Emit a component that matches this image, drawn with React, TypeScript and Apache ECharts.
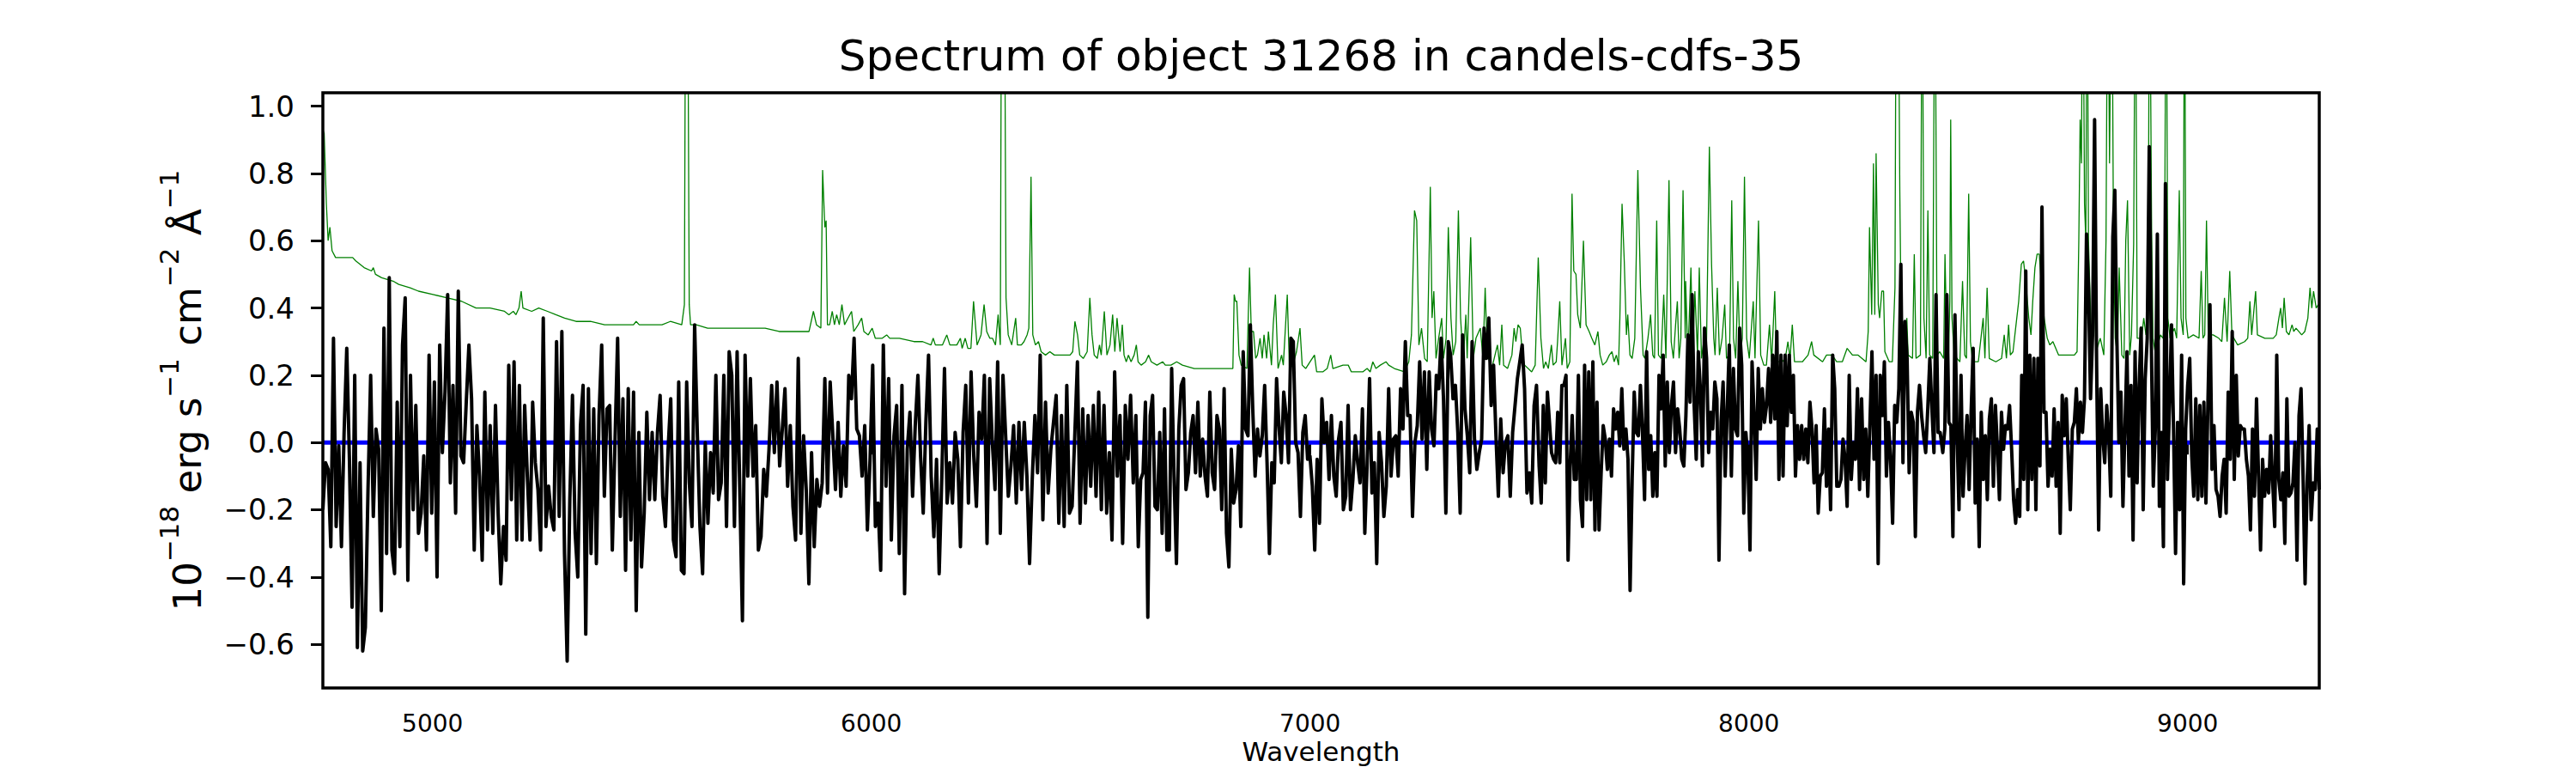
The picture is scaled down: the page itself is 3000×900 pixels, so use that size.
import React, { useEffect, useRef } from "react";
import * as echarts from "echarts";

// ---------- text ----------
const chartTitle = "Spectrum of object 31268 in candels-cdfs-35";
const xAxisTitle = "Wavelength";
const yAxisTitleRich = "{b|10}{s|−18}{b| erg s}{s|−1}{b| cm}{s|−2}{b| Å}{s|−1}";

// ---------- axes ----------
const xMin = 4750;
const xMax = 9300;
const yMin = -0.73;
const yMax = 1.04;
const xTickValues = [5000, 6000, 7000, 8000, 9000];
const yTickValues = [-0.6, -0.4, -0.2, 0.0, 0.2, 0.4, 0.6, 0.8, 1.0];

// ---------- zero reference line ----------
const zeroLine = [
  [4750, 0],
  [9300, 0],
];

// ---------- object flux (black), read in five wavelength stretches ----------
const blackSegmentStarts = [4750, 5682, 6603, 7522, 8442];
const blackSegmentEnds = [5676, 6597, 7516, 8436, 9300];

const blackFluxA = [
  -0.20,-0.06,-0.08,-0.31,0.31,-0.25,-0.01,-0.31,0.03,0.28,
  -0.05,-0.49,0.20,-0.61,-0.06,-0.62,-0.55,-0.14,0.20,-0.22,
  0.04,-0.02,-0.50,0.34,-0.33,0.49,-0.32,-0.39,0.12,-0.31,
  0.29,0.43,-0.41,0.20,-0.20,0.11,-0.27,-0.21,-0.04,-0.32,
  0.26,-0.21,0.18,-0.40,0.29,-0.03,0.15,0.44,-0.12,0.17,
  -0.21,0.45,-0.04,-0.06,0.12,0.29,0.13,-0.32,0.05,-0.10,
  -0.35,0.15,-0.26,0.05,-0.27,0.11,-0.21,-0.42,-0.25,-0.35,
  0.23,-0.17,0.24,-0.29,0.17,-0.29,0.11,-0.10,-0.29,0.12,
  -0.06,-0.14,-0.32,0.37,-0.25,-0.13,-0.22,-0.26,0.30,-0.22,
  0.33,-0.33,-0.65,-0.17,0.14,-0.27,-0.40,0.05,0.17,-0.57,
  0.16,-0.33,0.10,-0.36,0.08,0.29,-0.16,0.10,0.11,-0.32,
  0.00,0.31,-0.22,0.13,-0.38,0.16,-0.29,0.15,-0.50,0.03,
  -0.37,-0.21,0.09,-0.17,0.03,-0.17,0.03,0.14,-0.16,-0.25,
  -0.02,0.13,-0.29,-0.34,0.18,-0.38,-0.39,0.18,-0.12,-0.25,
  0.35,0.03,-0.25,-0.39,0.00,-0.24,-0.03,-0.15,0.20,-0.17,
  -0.12,0.20,-0.25,0.27,
];

const blackFluxB = [
  0.20,-0.25,0.27,-0.14,-0.53,0.26,-0.10,0.19,-0.10,0.05,
  -0.32,-0.28,-0.08,-0.16,-0.02,0.17,-0.03,0.18,-0.07,0.04,
  0.16,-0.13,0.05,-0.19,-0.29,0.25,-0.27,0.02,-0.14,-0.42,
  -0.03,-0.31,-0.11,-0.19,-0.12,0.19,-0.15,0.18,0.02,-0.14,
  0.06,-0.16,-0.01,-0.13,0.20,0.13,0.31,0.04,0.02,-0.10,
  0.05,-0.26,-0.05,0.23,-0.25,-0.18,-0.38,0.29,-0.13,0.19,
  -0.29,0.02,0.11,-0.33,0.17,-0.45,-0.02,0.09,-0.16,0.05,
  0.20,-0.04,-0.21,0.06,0.26,-0.10,-0.28,-0.05,-0.39,-0.10,
  0.22,-0.18,-0.06,-0.18,0.03,-0.05,-0.31,0.03,0.17,-0.18,
  0.21,-0.04,-0.19,0.09,0.01,0.20,-0.30,0.19,0.00,-0.14,
  0.24,-0.27,0.20,0.02,-0.16,-0.07,0.05,-0.18,0.06,-0.14,
  0.06,-0.10,-0.36,-0.11,0.08,-0.09,0.26,-0.23,0.12,-0.15,
  -0.02,0.06,0.14,-0.24,0.08,-0.25,0.17,-0.21,-0.19,0.02,
  0.24,-0.24,0.10,-0.18,0.08,-0.13,0.11,-0.16,0.15,-0.20,
  0.11,-0.21,-0.03,-0.29,0.21,-0.10,0.08,-0.30,0.11,-0.05,
  0.14,-0.12,
];

const blackFluxC = [
  0.08,-0.31,-0.11,-0.09,0.12,-0.52,0.08,0.14,-0.19,-0.20,
  0.03,-0.27,0.10,-0.32,-0.32,0.22,-0.10,-0.36,0.04,0.17,
  0.19,-0.14,-0.09,0.03,0.08,-0.09,0.12,-0.10,0.01,-0.10,
  -0.16,0.15,-0.09,-0.14,0.08,0.04,-0.20,0.16,-0.27,-0.37,
  -0.02,-0.18,-0.14,-0.01,-0.25,0.27,0.04,0.02,0.35,0.10,
  -0.10,0.04,-0.04,0.02,0.17,-0.06,-0.33,-0.06,-0.12,0.19,
  0.05,-0.06,0.15,0.08,-0.06,0.31,0.30,0.00,-0.03,-0.22,
  0.03,0.08,-0.05,-0.04,-0.13,-0.32,-0.05,-0.24,0.13,0.00,
  0.06,-0.11,0.08,-0.10,-0.16,0.01,0.06,-0.20,-0.16,0.11,
  -0.20,-0.11,0.02,-0.06,-0.12,0.10,-0.27,-0.06,0.19,-0.15,
  -0.06,-0.36,0.03,-0.06,-0.22,-0.13,0.16,-0.10,0.01,0.02,
  -0.10,0.16,0.04,0.30,0.08,0.08,-0.22,0.00,0.05,0.24,
  0.01,0.21,-0.08,0.21,0.04,-0.01,0.20,0.16,0.31,0.13,
  -0.21,0.30,0.26,0.13,0.17,0.03,-0.21,0.32,0.10,0.02,
  -0.09,0.30,0.01,-0.08,-0.03,0.01,0.34,0.25,0.37,0.11,
  0.23,0.02,-0.16,0.07,-0.09,0.00,0.02,-0.16,0.03,0.11,
  0.19,0.24,0.29,0.16,-0.15,-0.09,-0.18,0.11,0.17,
];

const blackFluxD = [
  -0.07,-0.18,0.11,-0.12,0.15,0.06,-0.03,-0.05,-0.06,0.09,
  -0.06,0.17,0.17,0.20,-0.35,-0.07,0.08,-0.11,-0.11,0.20,
  -0.17,-0.25,0.23,-0.17,0.21,-0.17,0.24,-0.26,0.12,-0.26,
  -0.09,0.05,0.01,-0.08,0.01,-0.10,0.10,0.04,0.09,-0.01,
  0.16,-0.02,0.04,-0.05,-0.44,-0.11,0.15,0.03,0.02,0.17,
  0.03,-0.17,0.27,-0.08,0.02,-0.16,-0.03,-0.16,0.20,0.10,
  0.26,-0.07,0.18,-0.03,0.11,0.18,-0.03,0.10,0.04,-0.05,
  -0.07,0.08,0.32,0.12,0.44,0.11,-0.05,0.27,0.16,-0.07,
  0.34,0.25,-0.03,0.09,0.04,0.18,0.13,-0.35,0.06,0.18,
  -0.10,0.10,0.29,-0.10,0.22,0.04,0.02,0.34,0.23,-0.21,
  0.03,-0.05,-0.32,0.24,0.08,-0.11,0.22,0.04,0.16,0.06,
  0.11,0.22,0.06,0.26,0.07,0.33,-0.11,0.26,-0.10,0.26,
  0.05,0.26,0.09,0.20,-0.10,0.05,-0.05,0.05,-0.05,0.04,
  -0.06,0.12,0.04,-0.12,0.05,-0.21,-0.10,-0.09,0.10,-0.13,
  0.04,-0.20,0.26,0.16,-0.13,-0.13,-0.11,0.01,-0.05,-0.19,
  0.20,-0.11,0.00,-0.05,0.16,-0.14,0.13,-0.11,0.04,-0.16,
  0.05,0.27,-0.05,0.20,-0.36,0.20,0.08,0.24,-0.10,0.06,
  -0.05,-0.24,0.11,0.06,0.16,0.53,-0.06,0.36,0.25,-0.09,
  0.09,0.06,-0.28,0.09,0.17,0.08,0.02,-0.03,0.10,0.25,
  0.10,-0.03,0.44,0.03,0.03,
];

const blackFluxE = [
  -0.03,0.04,0.44,0.06,0.05,-0.28,0.38,0.04,-0.20,0.20,
  -0.16,-0.02,0.08,-0.14,0.09,0.28,-0.18,0.01,-0.31,0.09,
  -0.11,0.02,-0.17,0.07,0.13,-0.13,0.11,-0.02,-0.17,0.09,
  -0.02,0.05,0.04,0.11,-0.02,-0.17,-0.24,-0.14,-0.22,0.20,
  -0.11,0.51,-0.20,0.26,-0.11,0.25,-0.20,0.25,-0.07,0.70,
  0.09,0.09,-0.13,-0.02,-0.10,0.10,-0.13,0.06,-0.27,0.14,
  0.02,0.13,-0.05,-0.20,0.04,0.06,0.16,0.00,0.12,0.03,
  0.13,0.62,0.46,0.13,0.32,0.96,0.23,-0.26,0.16,0.02,
  -0.06,0.11,0.02,-0.16,0.61,0.75,0.31,0.00,0.15,-0.19,
  0.04,0.27,-0.10,0.17,-0.29,0.27,-0.12,0.17,0.34,-0.20,
  0.19,0.31,0.88,0.31,-0.13,0.04,0.62,-0.19,0.03,-0.31,
  0.77,-0.11,0.11,0.35,0.04,-0.33,0.06,-0.20,0.26,-0.42,
  0.04,0.17,0.25,-0.04,-0.16,0.13,-0.17,0.11,-0.16,0.12,
  -0.18,0.12,0.41,-0.08,0.05,-0.14,-0.16,-0.22,-0.10,-0.05,
  -0.21,0.15,-0.05,0.33,-0.11,0.20,-0.04,0.05,0.04,0.04,
  -0.05,-0.10,-0.26,0.04,-0.16,0.13,-0.10,-0.32,-0.05,-0.16,
  -0.08,-0.15,0.02,-0.12,-0.25,0.26,-0.11,-0.17,-0.09,-0.30,
  0.13,-0.16,-0.15,-0.12,0.00,-0.35,0.08,0.16,-0.10,-0.42,
  -0.12,0.05,-0.23,-0.12,-0.14,0.04,-0.14,
];

// ---------- noise / sky spectrum (green): [wavelength, flux] ----------
const greenPoints = [
  [4750,0.93],[4753,0.92],[4758,0.71],[4762,0.60],[4766,0.64],[4771,0.57],[4779,0.55],[4799,0.55],[4805,0.55],[4818,0.55],
  [4825,0.54],[4844,0.52],[4861,0.51],[4865,0.52],[4870,0.50],[4884,0.49],[4910,0.48],[4923,0.47],[4949,0.46],[4968,0.45],
  [5001,0.44],[5034,0.43],[5066,0.42],[5099,0.40],[5131,0.40],[5164,0.39],[5174,0.38],[5184,0.39],[5190,0.38],[5197,0.40],
  [5202,0.45],[5206,0.40],[5226,0.39],[5242,0.40],[5262,0.39],[5281,0.38],[5301,0.37],[5327,0.36],[5360,0.36],[5392,0.35],
  [5425,0.35],[5458,0.35],[5464,0.36],[5471,0.35],[5523,0.35],[5542,0.36],[5568,0.35],[5574,0.41],[5577,1.6],[5581,1.6],
  [5585,0.41],[5588,0.35],[5601,0.35],[5627,0.34],[5653,0.34],[5679,0.34],
  [5692,0.34],[5725,0.34],[5758,0.34],[5790,0.33],[5823,0.33],[5858,0.33],[5868,0.39],[5875,0.35],[5885,0.34],[5889,0.81],
  [5894,0.64],[5897,0.66],[5900,0.35],[5905,0.35],[5911,0.39],[5916,0.35],[5921,0.38],[5927,0.35],[5933,0.41],[5939,0.35],
  [5947,0.37],[5955,0.39],[5960,0.33],[5970,0.35],[5978,0.37],[5983,0.33],[5993,0.32],[6002,0.34],[6009,0.31],[6025,0.31],
  [6035,0.32],[6042,0.31],[6064,0.31],[6097,0.30],[6117,0.30],[6136,0.29],[6141,0.31],[6146,0.29],[6162,0.29],[6172,0.32],
  [6179,0.29],[6195,0.29],[6203,0.31],[6207,0.28],[6214,0.31],[6220,0.28],[6227,0.28],[6233,0.42],[6241,0.29],[6250,0.32],
  [6257,0.41],[6263,0.33],[6270,0.31],[6276,0.31],[6283,0.29],[6289,0.38],[6294,0.29],[6297,1.6],[6303,1.6],[6307,0.43],
  [6312,0.32],[6320,0.29],[6329,0.37],[6333,0.29],[6342,0.29],[6348,0.30],[6355,0.32],[6359,0.34],[6364,0.79],[6368,0.32],
  [6374,0.29],[6381,0.30],[6387,0.27],[6397,0.26],[6407,0.27],[6417,0.26],[6423,0.26],[6433,0.26],[6443,0.26],[6453,0.26],
  [6459,0.27],[6464,0.36],[6470,0.32],[6475,0.26],[6483,0.25],[6492,0.27],[6498,0.43],[6503,0.32],[6508,0.26],[6515,0.25],
  [6520,0.29],[6524,0.26],[6531,0.39],[6537,0.26],[6544,0.29],[6550,0.38],[6555,0.27],[6560,0.37],[6567,0.27],[6572,0.35],
  [6576,0.26],[6581,0.24],[6586,0.26],
  [6592,0.24],[6599,0.26],[6604,0.29],[6608,0.24],[6615,0.23],[6625,0.24],[6632,0.26],[6638,0.24],[6651,0.23],[6664,0.24],
  [6670,0.23],[6683,0.23],[6696,0.24],[6709,0.23],[6736,0.22],[6768,0.22],[6811,0.22],[6824,0.22],[6827,0.44],[6830,0.42],
  [6833,0.42],[6838,0.26],[6843,0.23],[6856,0.22],[6862,0.52],[6866,0.33],[6871,0.33],[6876,0.25],[6880,0.26],[6886,0.31],
  [6891,0.25],[6895,0.32],[6901,0.25],[6905,0.33],[6912,0.23],[6916,0.35],[6921,0.44],[6927,0.22],[6935,0.26],[6939,0.23],
  [6948,0.44],[6953,0.22],[6961,0.23],[6969,0.27],[6977,0.34],[6982,0.23],[6990,0.22],[7000,0.24],[7010,0.26],[7015,0.21],
  [7029,0.21],[7039,0.22],[7047,0.26],[7052,0.22],[7075,0.23],[7087,0.23],[7094,0.21],[7120,0.21],[7130,0.22],[7137,0.21],
  [7143,0.24],[7150,0.22],[7160,0.23],[7173,0.24],[7179,0.23],[7192,0.22],[7215,0.21],[7225,0.24],[7231,0.32],[7238,0.69],
  [7243,0.66],[7248,0.29],[7254,0.34],[7261,0.25],[7267,0.24],[7274,0.76],[7278,0.37],[7282,0.45],[7287,0.25],[7293,0.31],
  [7300,0.37],[7304,0.25],[7310,0.31],[7315,0.64],[7321,0.37],[7326,0.26],[7332,0.30],[7338,0.69],[7343,0.37],[7349,0.24],
  [7355,0.38],[7358,0.25],[7366,0.61],[7372,0.25],[7378,0.31],[7388,0.34],[7394,0.25],[7399,0.46],[7404,0.26],[7414,0.22],
  [7427,0.29],[7432,0.23],[7437,0.35],[7441,0.23],[7450,0.22],[7460,0.26],[7465,0.34],[7469,0.30],[7474,0.35],[7479,0.34],
  [7484,0.26],[7489,0.23],[7505,0.21],[7513,0.23],[7520,0.55],
  [7526,0.31],[7532,0.22],[7537,0.24],[7543,0.22],[7550,0.29],[7554,0.23],[7561,0.24],[7564,0.30],[7569,0.42],[7574,0.23],
  [7582,0.31],[7586,0.22],[7592,0.24],[7597,0.74],[7601,0.51],[7606,0.50],[7610,0.38],[7616,0.34],[7623,0.60],[7629,0.35],
  [7636,0.33],[7642,0.31],[7649,0.29],[7656,0.33],[7661,0.26],[7667,0.23],[7675,0.24],[7682,0.26],[7688,0.27],[7693,0.24],
  [7698,0.26],[7703,0.23],[7706,0.37],[7711,0.71],[7716,0.54],[7721,0.32],[7724,0.38],[7729,0.26],[7734,0.25],[7740,0.31],
  [7747,0.81],[7753,0.46],[7759,0.26],[7763,0.25],[7770,0.31],[7776,0.38],[7781,0.26],[7785,0.25],[7790,0.66],[7794,0.26],
  [7800,0.25],[7806,0.44],[7811,0.25],[7818,0.78],[7823,0.30],[7828,0.25],[7833,0.35],[7837,0.42],[7841,0.25],[7845,0.31],
  [7850,0.75],[7855,0.31],[7856,0.48],[7861,0.25],[7868,0.52],[7872,0.26],[7877,0.45],[7883,0.26],[7887,0.52],[7892,0.25],
  [7898,0.31],[7903,0.25],[7910,0.88],[7915,0.53],[7920,0.31],[7923,0.26],[7928,0.46],[7933,0.26],[7939,0.31],[7945,0.41],
  [7949,0.25],[7956,0.26],[7961,0.72],[7965,0.31],[7970,0.25],[7975,0.48],[7980,0.26],[7985,0.31],[7990,0.79],[7995,0.31],
  [8001,0.25],[8010,0.42],[8014,0.25],[8022,0.66],[8027,0.26],[8034,0.23],[8040,0.23],[8047,0.35],[8052,0.24],[8059,0.45],
  [8063,0.24],[8076,0.24],[8083,0.25],[8089,0.30],[8094,0.25],[8099,0.35],[8104,0.24],[8122,0.24],[8135,0.26],[8143,0.30],
  [8148,0.26],[8168,0.24],[8177,0.26],[8190,0.26],[8200,0.24],[8213,0.24],[8224,0.28],[8236,0.26],[8249,0.26],[8267,0.24],
  [8272,0.33],[8275,0.64],[8280,0.38],[8284,0.83],[8287,0.38],[8290,0.86],[8295,0.41],[8298,0.37],[8303,0.45],[8307,0.45],
  [8310,0.27],[8320,0.24],[8327,0.24],[8333,0.46],[8336,1.6],[8340,1.6],[8344,0.75],[8347,0.37],[8350,0.27],[8355,0.26],
  [8360,0.37],[8363,0.26],[8373,0.25],[8377,0.56],[8381,0.25],[8391,0.26],[8395,1.6],[8399,0.37],[8404,0.25],[8408,0.69],
  [8412,0.26],[8419,0.25],[8424,1.6],[8429,0.26],
  [8435,0.27],[8444,0.25],[8447,0.56],[8450,0.37],[8455,0.25],[8458,0.42],[8460,0.96],[8463,0.37],[8468,0.26],[8481,0.24],
  [8487,0.48],[8492,0.26],[8496,0.25],[8501,0.74],[8505,0.30],[8510,0.24],[8523,0.24],[8534,0.37],[8538,0.25],[8543,0.46],
  [8548,0.25],[8563,0.24],[8576,0.25],[8582,0.32],[8587,0.25],[8592,0.35],[8596,0.26],[8602,0.27],[8608,0.34],[8615,0.42],
  [8621,0.53],[8626,0.54],[8631,0.48],[8638,0.37],[8643,0.32],[8647,0.42],[8652,0.52],[8657,0.56],[8662,0.56],[8667,0.46],
  [8673,0.37],[8680,0.31],[8686,0.29],[8693,0.30],[8706,0.26],[8722,0.26],[8742,0.26],[8748,0.27],[8752,0.60],[8755,0.96],
  [8758,0.83],[8761,1.6],[8765,0.71],[8768,0.60],[8771,1.6],[8774,0.60],[8779,0.37],[8783,0.26],[8786,0.58],[8791,0.27],
  [8801,0.31],[8809,0.26],[8814,0.60],[8818,1.6],[8822,0.83],[8827,1.6],[8831,0.60],[8835,0.31],[8840,0.26],[8844,0.52],
  [8850,0.26],[8855,0.25],[8859,0.60],[8863,0.72],[8868,0.26],[8872,0.32],[8877,0.59],[8881,1.6],[8885,0.31],[8895,0.31],
  [8900,0.37],[8905,0.32],[8910,0.37],[8913,1.6],[8918,0.62],[8921,0.31],[8927,0.26],[8938,0.32],[8944,0.31],[8947,0.39],
  [8951,1.6],[8955,0.37],[8960,0.31],[8970,0.34],[8975,0.31],[8981,0.75],[8985,0.37],[8990,0.32],[8993,1.6],[8996,0.37],
  [9001,0.31],[9013,0.32],[9026,0.31],[9031,0.51],[9035,0.31],[9039,0.32],[9043,0.66],[9047,0.32],[9058,0.32],[9071,0.31],
  [9078,0.30],[9084,0.43],[9090,0.30],[9096,0.51],[9101,0.32],[9114,0.29],[9130,0.30],[9137,0.31],[9142,0.42],[9146,0.32],
  [9155,0.45],[9159,0.32],[9176,0.31],[9195,0.31],[9202,0.32],[9208,0.37],[9212,0.40],[9216,0.34],[9220,0.43],[9225,0.33],
  [9231,0.32],[9238,0.35],[9242,0.33],[9247,0.34],[9260,0.32],[9267,0.33],[9274,0.37],[9279,0.46],[9283,0.40],[9287,0.45],
  [9293,0.40],[9298,0.41],
];

// ---------- layout (pixels) ----------
const canvasWidth = 3000;
const canvasHeight = 900;
const gridLeft = 376;
const gridRight = 299;
const gridTop = 108;
const gridBottom = 99;
const fontFamily = "DejaVu Sans";

function buildBlackData(): number[][] {
  const segments = [blackFluxA, blackFluxB, blackFluxC, blackFluxD, blackFluxE];
  const out: number[][] = [];
  segments.forEach((vals, k) => {
    const start = blackSegmentStarts[k];
    const end = blackSegmentEnds[k];
    const n = vals.length;
    vals.forEach((v, i) => {
      out.push([start + (i * (end - start)) / (n - 1), v]);
    });
  });
  return out;
}

export default function App() {
  const ref = useRef<HTMLDivElement>(null);

  useEffect(() => {
    if (!ref.current) return;
    const chart = echarts.init(ref.current, undefined, { renderer: "svg" });
    const plotW = canvasWidth - gridLeft - gridRight;
    const plotH = canvasHeight - gridTop - gridBottom;
    const plotCx = gridLeft + plotW / 2;
    const plotCy = gridTop + plotH / 2;

    chart.setOption({
      animation: false,
      backgroundColor: "#ffffff",
      grid: {
        left: gridLeft,
        right: gridRight,
        top: gridTop,
        bottom: gridBottom,
        containLabel: false,
        outerBoundsMode: "none",
        show: false,
      },
      xAxis: {
        type: "value",
        min: xMin,
        max: xMax,
        axisLine: { show: false },
        splitLine: { show: false },
        axisTick: {
          show: true,
          length: 14,
          lineStyle: { color: "#000", width: 3 },
          customValues: xTickValues,
        },
        axisLabel: {
          show: true,
          customValues: xTickValues,
          margin: 27,
          fontSize: 28,
          fontFamily,
          color: "#000",
          formatter: (v: number) => String(v),
        },
      },
      yAxis: {
        type: "value",
        min: yMin,
        max: yMax,
        axisLine: { show: false },
        splitLine: { show: false },
        axisTick: {
          show: true,
          length: 14,
          lineStyle: { color: "#000", width: 3 },
          customValues: yTickValues,
        },
        axisLabel: {
          show: true,
          customValues: yTickValues,
          margin: 33,
          fontSize: 34,
          fontFamily,
          color: "#000",
          formatter: (v: number) => v.toFixed(1).replace("-", "\u2212"),
        },
      },
      graphic: [
        {
          type: "text",
          x: plotCx,
          y: 65,
          z: 100,
          silent: true,
          style: {
            text: chartTitle,
            fontSize: 50,
            fontFamily,
            fill: "#000",
            textAlign: "center",
            textVerticalAlign: "middle",
          },
        },
        {
          type: "text",
          x: plotCx,
          y: 875,
          z: 100,
          silent: true,
          style: {
            text: xAxisTitle,
            fontSize: 31,
            fontFamily,
            fill: "#000",
            textAlign: "center",
            textVerticalAlign: "middle",
          },
        },
        {
          type: "text",
          x: 211,
          y: plotCy,
          rotation: Math.PI / 2,
          z: 100,
          silent: true,
          style: {
            text: yAxisTitleRich,
            fontFamily,
            fill: "#000",
            textAlign: "center",
            textVerticalAlign: "middle",
            rich: {
              b: { fontSize: 45, lineHeight: 60, fontFamily, fill: "#000", verticalAlign: "bottom" },
              s: { fontSize: 31, lineHeight: 32, fontFamily, fill: "#000", verticalAlign: "top" },
            },
          },
        },
        {
          type: "rect",
          z: 100,
          silent: true,
          shape: { x: gridLeft, y: gridTop, width: plotW, height: plotH },
          style: { fill: "none", stroke: "#000", lineWidth: 3.5 },
        },
      ],
      series: [
        {
          name: "noise",
          type: "line",
          data: greenPoints,
          symbol: "none",
          showSymbol: false,
          clip: true,
          silent: true,
          lineStyle: { color: "#008000", width: 1.3 },
          emphasis: { disabled: true },
        },
        {
          name: "zero",
          type: "line",
          data: zeroLine,
          symbol: "none",
          showSymbol: false,
          clip: true,
          silent: true,
          lineStyle: { color: "#0000ff", width: 5 },
          emphasis: { disabled: true },
        },
        {
          name: "flux",
          type: "line",
          data: buildBlackData(),
          symbol: "none",
          showSymbol: false,
          clip: true,
          silent: true,
          lineStyle: { color: "#000000", width: 4, join: "round" },
          emphasis: { disabled: true },
        },
      ],
    });

    return () => {
      chart.dispose();
    };
  }, []);

  return (
    <div
      ref={ref}
      style={{
        position: "fixed",
        left: 0,
        top: 0,
        width: canvasWidth,
        height: canvasHeight,
        background: "#fff",
      }}
    />
  );
}
